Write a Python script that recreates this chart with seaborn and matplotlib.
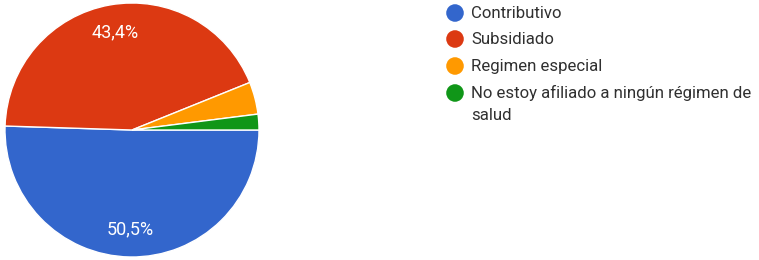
import matplotlib
matplotlib.use("Agg")
import matplotlib.pyplot as plt
import seaborn as sns

sns.set_theme(style="white")
plt.rcParams['font.family'] = ['Roboto', 'DejaVu Sans']

# data
categorias = ["Contributivo", "Subsidiado", "Regimen especial",
              "No estoy afiliado a ningún régimen de\nsalud"]
porcentajes = [50.5, 43.4, 4.1, 2.0]
colores = ["#3366CC", "#DC3912", "#FF9900", "#109618"]

fig = plt.figure(figsize=(7.59, 2.60), dpi=100)
ax = fig.add_axes([5 / 759, 3 / 260, 254 / 759, 254 / 260])

def etiqueta(p):
    # only the big slices get a label
    return f"{p:.1f}%".replace(".", ",") if p > 5 else ""

wedges, texts, autotexts = ax.pie(
    porcentajes, colors=colores, startangle=0, counterclock=False,
    autopct=etiqueta, pctdistance=0.78,
    wedgeprops=dict(edgecolor="white", linewidth=1),
    textprops=dict(color="white", fontsize=13),
)
ax.set_xlim(-1, 1)
ax.set_ylim(-1, 1)
ax.set_aspect("equal")

# legend, drawn by hand so the wrapped label lines up like the original
lax = fig.add_axes([0, 0, 1, 1])
lax.set_xlim(0, 759)
lax.set_ylim(260, 0)
lax.axis("off")
ys = [13, 39, 66, 93]
for y, nombre, c in zip(ys, categorias, colores):
    lax.scatter(455, y, s=160, color=c, edgecolor="none")
    for i, linea in enumerate(nombre.split("\n")):
        lax.text(471, y + i * 23, linea, va="center", ha="left",
                 fontsize=12.1, color="#303030")

fig.savefig("out.png", dpi=100)
